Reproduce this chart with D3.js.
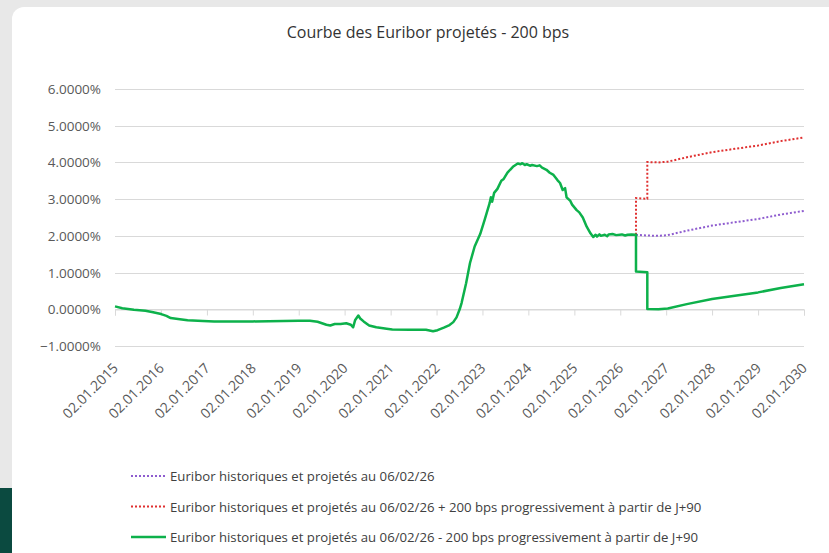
<!DOCTYPE html>
<html>
<head>
<meta charset="utf-8">
<script src="https://cdn.jsdelivr.net/npm/d3@7"></script>
<style>
  html, body { margin: 0; padding: 0; background: #e8e8e8; }
  svg { display: block; font-family: "Open Sans", sans-serif; }
</style>
</head>
<body>
<div id="chart"></div>
<script>
// historical euribor (green, shared by the 3 series)
const histDates = [
  "2015-01-02","2015-03-01","2015-06-01","2015-09-01","2015-11-01","2016-01-04","2016-02-15","2016-03-20",
  "2016-06-01","2016-08-01","2016-12-01","2017-03-01","2018-01-02","2019-01-02","2019-04-01","2019-06-01",
  "2019-08-10","2019-09-10","2019-10-15","2019-12-01","2020-01-15","2020-02-20","2020-03-10","2020-03-25",
  "2020-04-20","2020-05-05","2020-06-01","2020-07-15","2020-09-10","2020-12-01","2021-01-15","2021-06-01",
  "2021-10-10","2021-12-05","2022-01-10","2022-03-01","2022-04-15","2022-05-15","2022-06-10","2022-07-05",
  "2022-07-20","2022-08-25","2022-09-25","2022-11-01","2022-12-15","2023-01-20","2023-02-28","2023-03-10",
  "2023-03-20","2023-04-05","2023-05-01","2023-06-01","2023-06-20","2023-07-20","2023-08-10","2023-09-01",
  "2023-10-10","2023-11-01","2023-11-15","2023-12-05","2023-12-20","2024-01-15","2024-02-01","2024-03-10",
  "2024-04-01","2024-04-20","2024-05-25","2024-06-20","2024-07-20","2024-08-20","2024-09-10","2024-10-01",
  "2024-10-20","2024-11-01","2024-12-01","2024-12-15","2025-01-20","2025-02-10","2025-03-10","2025-04-10",
  "2025-05-10","2025-06-01","2025-06-20","2025-07-01","2025-07-20","2025-08-01","2025-09-01","2025-09-20",
  "2025-10-01","2025-11-01","2025-12-01","2026-01-15","2026-02-10","2026-03-01","2026-04-01","2026-05-07"
];
const histRates = [
  0.08, 0.03, -0.01, -0.04, -0.08, -0.13, -0.18, -0.24,
  -0.27, -0.30, -0.32, -0.33, -0.33, -0.31, -0.31, -0.34,
  -0.42, -0.44, -0.40, -0.40, -0.38, -0.42, -0.49, -0.30,
  -0.17, -0.25, -0.33, -0.44, -0.49, -0.53, -0.55, -0.56,
  -0.56, -0.60, -0.57, -0.50, -0.43, -0.35, -0.22, 0.00,
  0.17, 0.71, 1.26, 1.71, 2.05, 2.44, 2.89, 3.05,
  2.93, 3.17, 3.28, 3.50, 3.55, 3.72, 3.80, 3.88,
  3.97, 3.95, 3.98, 3.93, 3.95, 3.91, 3.93, 3.90,
  3.92, 3.86, 3.80, 3.72, 3.66, 3.52, 3.44, 3.25,
  3.30, 3.05, 2.95, 2.85, 2.70, 2.64, 2.50, 2.25,
  2.07, 1.97, 2.03, 1.98, 2.04, 2.00, 2.03, 1.99,
  2.04, 2.05, 2.02, 2.04, 2.01, 2.03, 2.04, 2.03
];

// projections from J+90
const projDates = [
  "2026-05-07","2026-05-07","2026-08-05","2026-08-05","2026-11-01","2027-01-15",
  "2027-06-15","2028-01-02","2028-07-01","2029-01-02","2029-07-01","2030-01-02"
];
const centralRates = [2.03, 2.03, 2.01, 2.01, 2.00, 2.02, 2.14, 2.28, 2.37, 2.46, 2.58, 2.68];
const upRates      = [2.03, 3.03, 3.01, 4.01, 4.00, 4.02, 4.14, 4.28, 4.37, 4.46, 4.58, 4.68];
const downRates    = [2.03, 1.03, 1.01, 0.01, 0.00, 0.02, 0.14, 0.28, 0.37, 0.46, 0.58, 0.68];

const xTickLabels = ["02.01.2015","02.01.2016","02.01.2017","02.01.2018","02.01.2019","02.01.2020","02.01.2021","02.01.2022",
  "02.01.2023","02.01.2024","02.01.2025","02.01.2026","02.01.2027","02.01.2028","02.01.2029","02.01.2030"];
const yTicks = [-1, 0, 1, 2, 3, 4, 5, 6];

const legendLabels = [
  "Euribor historiques et projetés au 06/02/26",
  "Euribor historiques et projetés au 06/02/26 + 200 bps progressivement à partir de J+90",
  "Euribor historiques et projetés au 06/02/26 - 200 bps progressivement à partir de J+90"
];

const W = 829, H = 553;
const parseIso = d3.timeParse("%Y-%m-%d");
const parseFr = d3.timeParse("%d.%m.%Y");

var svg = d3.select("#chart").append("svg")
    .attr("width", W)
    .attr("height", H);

// page background + card
svg.append("rect").attr("width", W).attr("height", H).attr("fill", "#e8e8e8");
svg.append("rect").attr("x", 0).attr("y", 488).attr("width", 16).attr("height", 70).attr("fill", "#0b4a40");
svg.append("rect")
    .attr("x", 12).attr("y", 7)
    .attr("width", 840).attr("height", 560)
    .attr("rx", 12)
    .attr("fill", "#ffffff");

svg.append("text")
    .attr("x", 428).attr("y", 38)
    .attr("text-anchor", "middle")
    .style("font-size", "16px")
    .style("fill", "#333")
    .text("Courbe des Euribor projetés - 200 bps");

var x = d3.scaleTime()
    .domain([parseFr(xTickLabels[0]), parseFr(xTickLabels[xTickLabels.length - 1])])
    .range([115, 804]);

var y = d3.scaleLinear()
    .domain([-1, 6])
    .range([346, 89]);

// gridlines
svg.append("g")
    .selectAll("line")
    .data(yTicks)
    .enter()
    .append("line")
    .attr("x1", 115).attr("x2", 804)
    .attr("y1", d => Math.round(y(d)) + 0.5)
    .attr("y2", d => Math.round(y(d)) + 0.5)
    .style("stroke", "#d9d9d9")
    .style("stroke-width", 1);

// y labels
svg.append("g")
    .selectAll("text")
    .data(yTicks)
    .enter()
    .append("text")
    .attr("x", 101)
    .attr("y", d => y(d) + 5)
    .attr("text-anchor", "end")
    .style("font-size", "13.5px")
    .style("fill", "#595959")
    .text(d => d3.format(".4f")(d) + "%");

// x axis sits on the 0% line
var xAxis = d3.axisBottom(x)
    .tickValues(xTickLabels.map(parseFr))
    .tickSize(6)
    .tickFormat("");

var axisG = svg.append("g")
    .attr("transform", "translate(0," + (Math.round(y(0)) + 0.5) + ")")
    .call(xAxis);
axisG.select(".domain").attr("stroke", "#d9d9d9");
axisG.selectAll(".tick line").attr("stroke", "#d9d9d9");

svg.append("g")
    .selectAll("text")
    .data(xTickLabels)
    .enter()
    .append("text")
    .attr("transform", d => "translate(" + (x(parseFr(d)) + 4) + ",369)rotate(-45)")
    .attr("text-anchor", "end")
    .style("font-size", "14px")
    .style("fill", "#595959")
    .text(d => d);

var line = d3.line()
    .x(d => x(d[0]))
    .y(d => y(d[1]));

function pairs(dates, vals) {
    return dates.map((d, i) => [parseIso(d), vals[i]]);
}

svg.append("path")
    .datum(pairs(projDates, centralRates))
    .attr("d", line)
    .style("fill", "none")
    .style("stroke", "#8e5ccf")
    .style("stroke-width", 2)
    .style("stroke-dasharray", "2,2");

svg.append("path")
    .datum(pairs(projDates, upRates))
    .attr("d", line)
    .style("fill", "none")
    .style("stroke", "#e03030")
    .style("stroke-width", 2)
    .style("stroke-dasharray", "2,2");

svg.append("path")
    .datum(pairs(histDates, histRates).concat(pairs(projDates, downRates)))
    .attr("d", line)
    .style("fill", "none")
    .style("stroke", "#0db14b")
    .style("stroke-width", 2.5)
    .style("stroke-linejoin", "round");

// legend
var legendStyles = [
    { color: "#8e5ccf", dash: "2,2", w: 2 },
    { color: "#e03030", dash: "2,2", w: 2 },
    { color: "#0db14b", dash: null, w: 2.5 }
];

var leg = svg.append("g")
    .selectAll("g")
    .data(legendLabels)
    .enter()
    .append("g")
    .attr("transform", (d, i) => "translate(0," + (476 + i * 30.5) + ")");

leg.append("line")
    .attr("x1", 131).attr("x2", 166)
    .attr("y1", 0).attr("y2", 0)
    .style("stroke", (d, i) => legendStyles[i].color)
    .style("stroke-width", (d, i) => legendStyles[i].w)
    .style("stroke-dasharray", (d, i) => legendStyles[i].dash);

leg.append("text")
    .attr("x", 170)
    .attr("y", 5)
    .style("font-size", "13.2px")
    .style("fill", "#404040")
    .text(d => d);
</script>
</body>
</html>
